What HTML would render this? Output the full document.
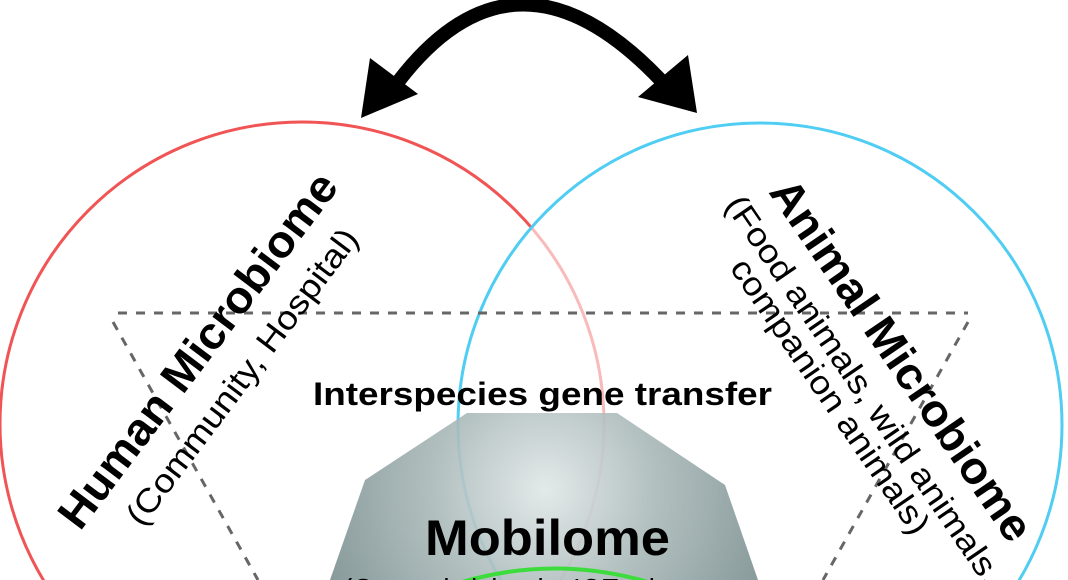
<!DOCTYPE html>
<html><head><meta charset="utf-8"><style>
html,body{margin:0;padding:0;background:#fff;width:1068px;height:580px;overflow:hidden;}
svg{display:block;}
text{font-family:"Liberation Sans",Arial,sans-serif;fill:#000;}
</style></head><body>
<svg width="1068" height="580" viewBox="0 0 1068 580" xmlns="http://www.w3.org/2000/svg">
<defs>
<radialGradient id="g" cx="545" cy="490" r="230" gradientUnits="userSpaceOnUse">
<stop offset="0" stop-color="#e0e7e7"/>
<stop offset="0.5" stop-color="#a8b7b7"/>
<stop offset="1" stop-color="#7c9090"/>
</radialGradient>
<clipPath id="c"><rect x="0" y="0" width="1068" height="580"/></clipPath>
</defs>
<g clip-path="url(#c)">
<!-- circles -->
<circle cx="302" cy="424" r="302" fill="none" stroke="#f05454" stroke-width="3"/>
<circle cx="760" cy="425" r="302" fill="rgba(255,255,255,0.6)" stroke="#4fcdf2" stroke-width="3"/>
<!-- dashed triangle -->
<g stroke="#666" stroke-width="3" stroke-dasharray="9,9" fill="none">
<line x1="118" y1="313" x2="968" y2="313"/>
<line x1="113" y1="322" x2="258" y2="580"/>
<line x1="968" y1="322" x2="823" y2="580"/>
</g>
<!-- octagon -->
<polygon points="467,413 617,413 725,485 758,580 330,580 365,480" fill="url(#g)" opacity="0.9"/>
<!-- green arc -->
<path d="M462,582 Q555,555 648,582" fill="none" stroke="#3ddc3d" stroke-width="4"/>
<!-- arrow -->
<path d="M392,90 Q515,-80 668,88" fill="none" stroke="#000" stroke-width="14"/>
<polygon points="361,118 370,58 418,94" fill="#000"/>
<polygon points="697,113 688,55 638,97" fill="#000"/>
<!-- texts -->
<text x="313" y="405" font-size="32" font-weight="bold" textLength="459" lengthAdjust="spacingAndGlyphs">Interspecies gene transfer</text>
<text x="425" y="555" font-size="50" font-weight="bold" textLength="245" lengthAdjust="spacingAndGlyphs">Mobilome</text>
<text x="343" y="600" font-size="31" textLength="420" lengthAdjust="spacingAndGlyphs">(Genomic islands, ICEs, integrons</text>
<text transform="translate(80,532) rotate(-53)" font-size="45" font-weight="bold" textLength="432" lengthAdjust="spacingAndGlyphs">Human Microbiome</text>
<text transform="translate(142,528) rotate(-53)" font-size="33" textLength="362" lengthAdjust="spacingAndGlyphs">(Community, Hospital)</text>
<text transform="translate(768,192) rotate(55.6)" font-size="45" font-weight="bold" textLength="428" lengthAdjust="spacingAndGlyphs">Animal Microbiome</text>
<text transform="translate(724,205) rotate(55.6)" font-size="33" textLength="463" lengthAdjust="spacingAndGlyphs">(Food animals, wild animals,</text>
<text transform="translate(729,268) rotate(55.6)" font-size="33" textLength="326" lengthAdjust="spacingAndGlyphs">companion animals)</text>
</g>
</svg>
</body></html>
